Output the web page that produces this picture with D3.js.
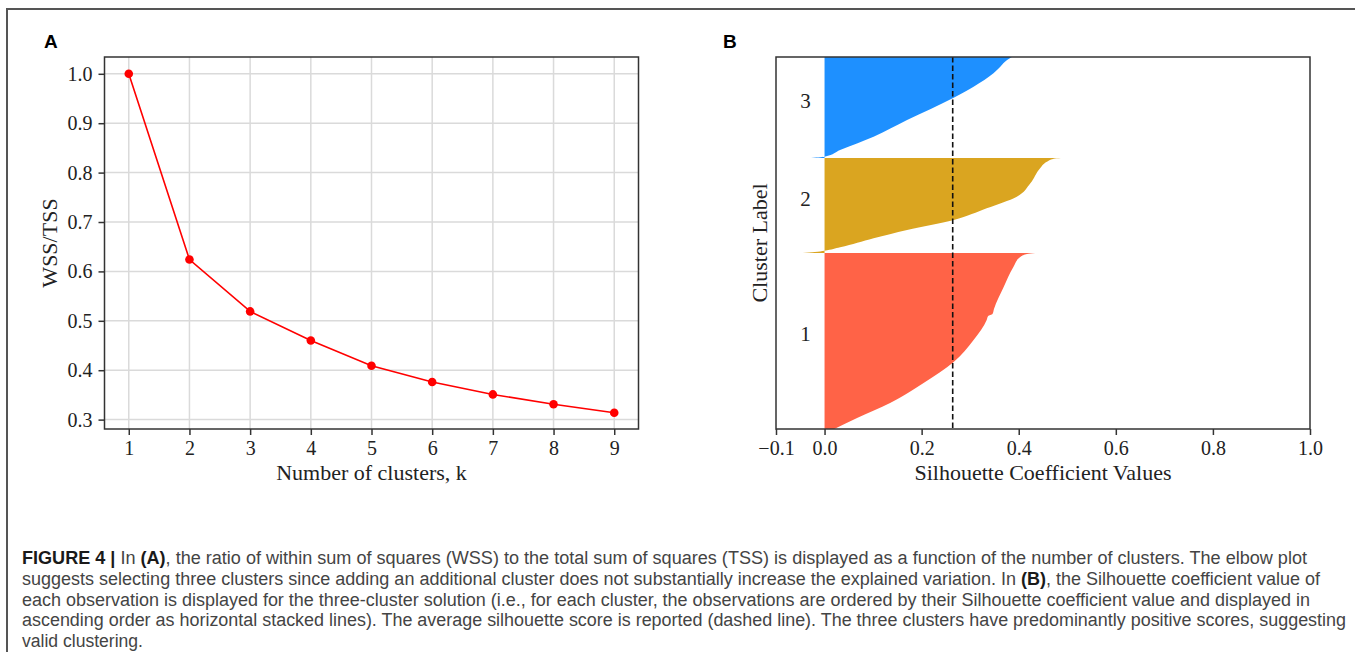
<!DOCTYPE html>
<html>
<head>
<meta charset="utf-8">
<title>Figure 4 - elbow and silhouette plots</title>
<script src="https://cdn.jsdelivr.net/npm/d3@7"></script>
<style>
  body { margin: 0; background: #fff; }
  svg { display: block; }
</style>
</head>
<body>
<script>

// Panel A: elbow plot
var clusterCounts = [1, 2, 3, 4, 5, 6, 7, 8, 9];
var wssRatio = [1.0, 0.624, 0.519, 0.460, 0.409, 0.376, 0.351, 0.331, 0.314];
var wssTicks = [0.3, 0.4, 0.5, 0.6, 0.7, 0.8, 0.9, 1.0];

// Panel B: silhouette plot, [position inside cluster, silhouette value]
var clusterLabels = ["1", "2", "3"];
var clusterSizes = [176, 95, 101];
var cluster1Values = [[0, 0.02], [11, 0.067], [26, 0.135], [46, 0.204], [67, 0.266], [89, 0.307],
  [109, 0.334], [113, 0.337], [115, 0.346], [120, 0.349], [142, 0.369], [162, 0.389],
  [172, 0.403], [175, 0.417], [176, 0.434]];
var cluster2Values = [[0, -0.045], [1, -0.02], [2.3, 0.0], [5.7, 0.032], [14.7, 0.101], [23, 0.17],
  [33, 0.266], [44.7, 0.334], [56.3, 0.396], [69.7, 0.424], [84.7, 0.444], [91.3, 0.458],
  [94.3, 0.472], [95, 0.487]];
var cluster3Values = [[0, -0.033], [1.3, 0.0], [8, 0.032], [21.3, 0.101], [38, 0.17], [60.3, 0.266],
  [71.3, 0.307], [84.7, 0.348], [91.3, 0.362], [98, 0.376], [101, 0.386]];
var clusterColors = ["#ff6347", "#daa520", "#1e90ff"];
var avgSilhouette = 0.264;
var silhouetteTicks = [-0.1, 0.0, 0.2, 0.4, 0.6, 0.8, 1.0];

// Caption, one array per line: [text, bold]
var captionLines = [
  [["FIGURE 4 | ", true], ["In ", false], ["(A)", true], [", the ratio of within sum of squares (WSS) to the total sum of squares (TSS) is displayed as a function of the number of clusters. The elbow plot", false]],
  [["suggests selecting three clusters since adding an additional cluster does not substantially increase the explained variation. In ", false], ["(B)", true], [", the Silhouette coefficient value of", false]],
  [["each observation is displayed for the three-cluster solution (i.e., for each cluster, the observations are ordered by their Silhouette coefficient value and displayed in", false]],
  [["ascending order as horizontal stacked lines). The average silhouette score is reported (dashed line). The three clusters have predominantly positive scores, suggesting", false]],
  [["valid clustering.", false]]
];
var captionWidths = [1285, 1298, 1288, 1324, 121];

var w = 1355;
var h = 652;
var serif = "'Liberation Serif', 'Times New Roman', serif";
var sans = "'Liberation Sans', Arial, sans-serif";

var svg = d3.select("body")
            .append("svg")
            .attr("width", w)
            .attr("height", h);

drawFrame();
drawElbow();
drawSilhouette();
drawCaption();

function drawFrame(){
  svg.append("path")
     .attr("d", "M7,652 V9 H1355")
     .attr("fill", "none")
     .attr("stroke", "#555")
     .attr("stroke-width", 2);
}

function styleAxis(g){
  g.select(".domain").remove();
  g.selectAll(".tick line").attr("stroke", "#333").attr("stroke-width", 1.5);
  g.selectAll(".tick text")
   .attr("fill", "#222")
   .style("font-family", serif)
   .style("font-size", "20px");
}

function panelLetter(x, letter){
  svg.append("text")
     .attr("x", x)
     .attr("y", 48)
     .style("font-family", sans)
     .style("font-size", "19px")
     .style("font-weight", "bold")
     .text(letter);
}

function drawElbow(){
  var left = 104.5, right = 638.5, top = 57, bottom = 429;

  var xScale = d3.scaleLinear().domain([0.6, 9.4]).range([left, right]);
  var yScale = d3.scaleLinear().domain([0.281, 1.034]).range([bottom, top]);

  var graph = svg.append("g");

  // grid
  graph.selectAll(".vgrid")
       .data(clusterCounts)
       .enter()
       .append("line")
       .attr("x1", d => xScale(d))
       .attr("x2", d => xScale(d))
       .attr("y1", top)
       .attr("y2", bottom)
       .attr("stroke", "#dadada")
       .attr("stroke-width", 1.5);

  graph.selectAll(".hgrid")
       .data(wssTicks)
       .enter()
       .append("line")
       .attr("x1", left)
       .attr("x2", right)
       .attr("y1", d => yScale(d))
       .attr("y2", d => yScale(d))
       .attr("stroke", "#dadada")
       .attr("stroke-width", 1.5);

  // line + markers
  var line = d3.line()
               .x((d, i) => xScale(clusterCounts[i]))
               .y(d => yScale(d));

  graph.append("path")
       .datum(wssRatio)
       .attr("d", line)
       .attr("fill", "none")
       .attr("stroke", "#ff0000")
       .attr("stroke-width", 1.6);

  graph.selectAll("circle")
       .data(wssRatio)
       .enter()
       .append("circle")
       .attr("cx", (d, i) => xScale(clusterCounts[i]))
       .attr("cy", d => yScale(d))
       .attr("r", 4.3)
       .attr("fill", "#ff0000");

  // frame
  graph.append("rect")
       .attr("x", left)
       .attr("y", top)
       .attr("width", right - left)
       .attr("height", bottom - top)
       .attr("fill", "none")
       .attr("stroke", "#333")
       .attr("stroke-width", 1.5);

  // axes
  var xAxis = graph.append("g")
                   .attr("transform", `translate(0, ${bottom})`)
                   .call(d3.axisBottom(xScale).tickValues(clusterCounts).tickFormat(d3.format("d")).tickSize(6).tickPadding(6));
  styleAxis(xAxis);

  var yAxis = graph.append("g")
                   .attr("transform", `translate(${left}, 0)`)
                   .call(d3.axisLeft(yScale).tickValues(wssTicks).tickFormat(d3.format(".1f")).tickSize(6).tickPadding(6));
  styleAxis(yAxis);

  // titles
  svg.append("text")
     .attr("x", (left + right) / 2)
     .attr("y", 480)
     .attr("text-anchor", "middle")
     .style("font-family", serif)
     .style("font-size", "22px")
     .attr("fill", "#222")
     .text("Number of clusters, k");

  svg.append("text")
     .attr("transform", `translate(57, ${(top + bottom) / 2}) rotate(-90)`)
     .attr("text-anchor", "middle")
     .style("font-family", serif)
     .style("font-size", "22px")
     .attr("fill", "#222")
     .text("WSS/TSS");

  panelLetter(44, "A");
}

function drawSilhouette(){
  var left = 776, right = 1310, top = 57, bottom = 429;
  var total = d3.sum(clusterSizes);

  var xScale = d3.scaleLinear().domain([-0.1, 1.0]).range([left, right]);
  var yScale = d3.scaleLinear().domain([0, total]).range([bottom, top]);

  svg.append("clipPath")
     .attr("id", "clipB")
     .append("rect")
     .attr("x", left)
     .attr("y", top)
     .attr("width", right - left)
     .attr("height", bottom - top);

  var graph = svg.append("g").attr("clip-path", "url(#clipB)");

  var profiles = [cluster1Values, cluster2Values, cluster3Values];
  var offsets = [0, clusterSizes[0], clusterSizes[0] + clusterSizes[1]];

  profiles.forEach(function(values, k){
    var area = d3.area()
                 .curve(d3.curveMonotoneY)
                 .y(d => yScale(offsets[k] + d[0]))
                 .x0(xScale(0))
                 .x1(d => xScale(d[1]));

    graph.append("path")
         .datum(values)
         .attr("d", area)
         .attr("fill", clusterColors[k]);
  });

  // average silhouette score
  graph.append("line")
       .attr("x1", xScale(avgSilhouette))
       .attr("x2", xScale(avgSilhouette))
       .attr("y1", top)
       .attr("y2", bottom)
       .attr("stroke", "#111")
       .attr("stroke-width", 1.6)
       .attr("stroke-dasharray", "5.5,3");

  // cluster labels
  svg.selectAll(".clabel")
     .data(clusterLabels)
     .enter()
     .append("text")
     .attr("x", xScale(-0.05))
     .attr("y", (d, i) => yScale(offsets[i] + clusterSizes[i] / 2))
     .style("font-family", serif)
     .style("font-size", "21px")
     .attr("fill", "#222")
     .text(d => d);

  // frame
  svg.append("rect")
     .attr("x", left)
     .attr("y", top)
     .attr("width", right - left)
     .attr("height", bottom - top)
     .attr("fill", "none")
     .attr("stroke", "#333")
     .attr("stroke-width", 1.5);

  var xAxis = svg.append("g")
                 .attr("transform", `translate(0, ${bottom})`)
                 .call(d3.axisBottom(xScale).tickValues(silhouetteTicks).tickFormat(d3.format(".1f")).tickSize(6).tickPadding(6));
  styleAxis(xAxis);

  svg.append("text")
     .attr("x", (left + right) / 2)
     .attr("y", 480)
     .attr("text-anchor", "middle")
     .style("font-family", serif)
     .style("font-size", "22px")
     .attr("fill", "#222")
     .text("Silhouette Coefficient Values");

  svg.append("text")
     .attr("transform", `translate(767, ${(top + bottom) / 2}) rotate(-90)`)
     .attr("text-anchor", "middle")
     .style("font-family", serif)
     .style("font-size", "22px")
     .attr("fill", "#222")
     .text("Cluster Label");

  panelLetter(723, "B");
}

function drawCaption(){
  var cap = svg.append("g")
               .style("font-family", sans)
               .style("font-size", "18px")
               .attr("fill", "#444");

  captionLines.forEach(function(parts, i){
    var t = cap.append("text")
               .attr("x", 22)
               .attr("y", 564 + i * 20.8)
               .attr("textLength", captionWidths[i])
               .attr("lengthAdjust", "spacingAndGlyphs");
    parts.forEach(function(p){
      t.append("tspan")
       .style("font-weight", p[1] ? "bold" : "normal")
       .attr("fill", p[1] ? "#1a1a1a" : null)
       .text(p[0]);
    });
  });
}

</script>
</body>
</html>
